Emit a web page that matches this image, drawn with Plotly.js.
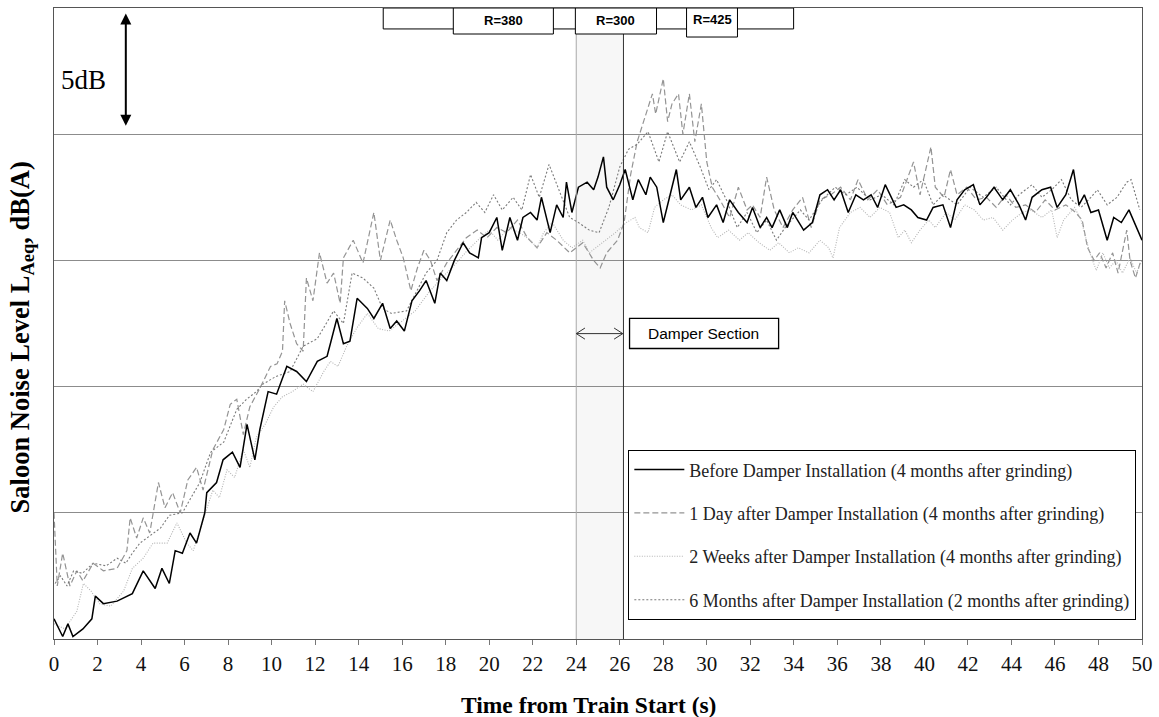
<!DOCTYPE html>
<html>
<head>
<meta charset="utf-8">
<script src="https://cdn.plot.ly/plotly-3.0.1.min.js"></script>
<style>
  html, body { margin: 0; padding: 0; background: #fff; }
  #chart { width: 1159px; height: 717px; }
</style>
</head>
<body>
<div id="chart"></div>
<script>
// Saloon noise level LAeq (dB(A)) against time from train start, [time s, level dB]
const before = [
  [0,60.8],[0.4,60.1],[0.64,60.6],[0.87,60.1],[1.33,60.4],[1.74,60.8],[1.9,61.7],[2.27,61.4],[2.9,61.5],[3.6,61.8],
  [4.1,62.7],[4.65,62.0],[4.96,62.8],[5.3,62.2],[5.57,63.5],[5.9,63.4],[6.25,64.2],[6.55,63.8],[6.93,65.0],[7.02,65.8],
  [7.47,66.2],[7.77,67.1],[8.2,67.4],[8.55,66.8],[8.87,68.5],[9.23,67.1],[9.46,68.3],[9.84,69.8],[10.23,69.7],[10.7,70.8],
  [11.15,70.6],[11.6,70.2],[12.1,71.0],[12.55,71.2],[12.7,71.7],[13.0,72.7],[13.3,71.7],[13.6,71.8],[13.93,73.5],[14.4,73.1],
  [14.7,72.7],[15.1,73.3],[15.45,72.3],[15.75,72.6],[16.1,72.2],[16.45,73.4],[16.8,73.8],[17.1,74.2],[17.5,73.3],[17.75,74.5],
  [18.05,74.2],[18.4,75.0],[18.8,75.7],[19.1,75.3],[19.5,75.1],[19.65,75.9],[20.0,76.1],[20.35,76.7],[20.6,75.4],[20.95,76.7],
  [21.3,75.8],[21.55,76.7],[21.9,76.9],[22.2,76.6],[22.4,77.5],[22.8,76.1],[23.1,77.2],[23.4,76.7],[23.55,78.1],[23.8,76.9],
  [24.1,77.9],[24.5,78.1],[24.8,77.8],[25.0,78.3],[25.25,79.1],[25.4,77.9],[25.7,77.4],[26.0,78.0],[26.25,78.6],[26.6,77.4],
  [26.85,78.2],[27.2,77.6],[27.4,78.3],[27.7,77.9],[28.0,76.5],[28.3,77.6],[28.6,78.6],[28.8,77.4],[29.2,77.9],[29.5,77.1],
  [29.8,77.5],[30.05,76.7],[30.45,77.2],[30.75,76.5],[31.05,77.4],[31.45,76.9],[31.85,76.5],[32.1,77.1],[32.45,76.3],[32.75,76.7],
  [33.0,76.3],[33.35,77.0],[33.7,76.3],[33.95,76.9],[34.45,76.2],[34.85,76.5],[35.2,77.6],[35.55,77.8],[35.85,77.4],[36.15,77.8],
  [36.5,76.9],[36.85,77.6],[37.2,77.4],[37.55,77.6],[37.85,77.1],[38.2,78.0],[38.55,77.4],[38.7,77.1],[39.05,77.2],[39.4,77.0],
  [39.7,76.7],[40.1,76.6],[40.4,77.1],[40.85,77.2],[41.2,76.3],[41.5,77.4],[41.85,77.8],[42.25,78.0],[42.55,77.2],[42.85,77.5],
  [43.2,77.9],[43.6,77.4],[43.95,77.8],[44.35,77.2],[44.65,76.6],[44.95,77.5],[45.4,77.8],[45.8,77.9],[46.1,77.1],[46.5,77.6],
  [46.85,78.6],[47.1,77.2],[47.35,77.6],[47.65,76.9],[48.0,77.0],[48.4,75.8],[48.7,76.7],[49.05,76.5],[49.4,77.0],[49.65,76.5],
  [50.0,75.8]
];

const oneDay = [
  [0,65.0],[0.15,62.1],[0.4,63.4],[0.73,62.1],[1.05,62.7],[1.33,62.3],[1.8,63.0],[2.27,62.7],[2.9,62.8],[3.35,63.5],
  [3.5,64.8],[3.8,64.0],[4.1,64.8],[4.4,64.2],[4.8,66.2],[5.1,65.2],[5.45,65.8],[5.8,65.0],[6.15,66.3],[6.55,66.8],
  [6.85,65.9],[7.3,67.5],[7.8,68.3],[8.1,69.3],[8.4,69.5],[8.7,68.1],[9.0,69.2],[9.5,70.0],[9.95,70.8],[10.25,70.9],
  [10.5,71.4],[10.6,73.4],[10.85,72.5],[11.15,71.7],[11.45,71.4],[11.6,74.3],[11.9,73.4],[12.2,75.3],[12.55,74.1],[12.85,74.5],
  [13.15,73.3],[13.3,75.1],[13.75,75.8],[14.2,74.9],[14.7,76.9],[15.0,75.0],[15.45,76.6],[15.75,75.8],[16.05,75.1],[16.4,73.8],
  [16.7,74.7],[17.0,75.4],[17.3,75.0],[17.6,74.2],[18.05,74.9],[18.5,75.4],[18.95,75.9],[19.45,76.2],[19.9,75.9],[20.35,76.3],
  [20.8,76.1],[21.3,76.6],[21.75,75.9],[22.2,75.5],[22.65,76.1],[23.1,75.8],[23.7,75.3],[24.3,75.7],[24.8,75.0],[25.1,74.7],
  [25.4,75.3],[25.9,75.8],[26.2,76.5],[26.5,78.4],[26.8,79.7],[27.5,81.6],[27.65,80.8],[28.0,82.2],[28.2,80.5],[28.4,81.2],
  [28.7,81.6],[28.9,80.0],[29.2,81.6],[29.45,79.7],[29.75,81.2],[30.0,78.9],[30.25,77.9],[30.6,77.4],[31.05,76.7],[31.45,77.9],
  [31.85,77.0],[32.1,77.2],[32.45,76.7],[32.75,78.3],[33.1,77.0],[33.5,76.3],[33.95,77.0],[34.4,77.5],[34.8,76.3],[35.2,77.4],
  [35.7,77.6],[36.15,77.9],[36.6,77.4],[36.95,78.2],[37.4,77.4],[37.85,77.8],[38.3,77.2],[38.9,77.5],[39.5,78.9],[39.8,77.6],
  [40.3,79.5],[40.5,77.9],[40.9,77.5],[41.2,78.6],[41.5,77.6],[41.95,77.9],[42.4,77.4],[42.85,77.5],[43.3,77.1],[43.75,77.6],
  [44.2,77.1],[44.65,77.2],[45.1,76.9],[45.55,77.4],[46.0,77.0],[46.5,77.2],[46.95,76.9],[47.25,76.6],[47.5,75.5],[47.8,75.0],
  [48.05,75.3],[48.35,74.7],[48.65,75.3],[48.9,74.5],[49.3,76.2],[49.45,75.0],[49.7,74.3],[49.95,75.0]
];

const twoWeeks = [
  [0,60.6],[0.5,60.4],[1.05,61.1],[1.35,62.2],[1.7,61.9],[2.1,61.4],[2.6,61.3],[3.2,61.9],[3.6,62.8],[4.1,63.2],
  [4.55,63.8],[5.2,63.8],[5.65,64.6],[6.1,63.8],[6.4,63.5],[6.7,64.3],[7.05,65.2],[7.3,65.9],[7.6,65.6],[7.95,66.7],
  [8.3,66.4],[8.7,67.5],[9.0,66.8],[9.3,68.0],[9.7,68.5],[10.1,69.2],[10.5,69.6],[10.95,69.8],[11.45,70.1],[11.9,69.8],
  [12.4,70.6],[12.7,71.0],[13.05,70.8],[13.45,71.6],[13.9,72.3],[14.4,72.9],[14.9,72.3],[15.4,72.2],[16.0,72.6],[16.6,73.0],
  [17.2,73.7],[17.7,74.2],[18.5,74.9],[19.0,75.4],[19.6,75.9],[20.0,76.2],[20.4,75.8],[20.9,76.3],[21.4,76.1],[21.9,75.8],
  [22.2,75.5],[22.5,76.1],[22.9,76.5],[23.4,75.8],[23.8,75.5],[24.3,75.8],[24.6,75.3],[24.9,75.5],[25.4,75.8],[25.8,76.1],
  [26.3,76.5],[26.7,76.7],[26.9,76.3],[27.3,76.1],[27.6,77.1],[28.0,77.4],[28.4,77.6],[28.8,77.2],[29.3,77.0],[29.75,77.2],
  [30.2,76.3],[30.5,75.9],[31.0,76.2],[31.5,75.8],[31.9,76.1],[32.4,75.7],[32.9,75.4],[33.3,75.7],[33.8,75.3],[34.2,75.5],
  [34.7,75.3],[35.2,75.8],[35.6,75.5],[35.8,75.1],[36.1,76.3],[36.6,76.9],[37.05,77.1],[37.5,76.7],[37.95,77.1],[38.4,76.9],
  [38.8,75.9],[39.1,76.2],[39.4,75.7],[39.8,76.2],[40.2,76.6],[40.5,76.3],[41.0,76.9],[41.4,76.6],[41.85,77.2],[42.3,77.0],
  [42.7,76.6],[43.15,76.7],[43.6,76.2],[44.05,76.6],[44.5,76.9],[44.9,77.0],[45.4,76.7],[45.85,77.0],[46.1,75.9],[46.4,76.6],
  [46.9,77.1],[47.2,76.6],[47.6,75.3],[47.9,74.6],[48.2,75.3],[48.5,74.7],[48.8,75.0],[49.1,74.5],[49.45,75.1],[49.75,74.5],
  [50.0,75.0]
];

const sixMonths = [
  [0.05,62.2],[0.3,62.5],[0.6,62.1],[0.9,62.7],[1.3,62.6],[1.8,63.0],[2.4,62.9],[2.9,63.2],[3.3,63.0],[3.6,63.4],
  [3.95,63.8],[4.4,64.1],[4.9,64.4],[5.3,64.9],[5.9,65.0],[6.7,66.2],[7.2,67.4],[7.8,67.8],[8.4,69.1],[8.85,69.5],
  [9.3,69.8],[9.6,70.1],[10.2,70.4],[10.85,70.6],[11.45,71.6],[12.1,71.9],[12.85,73.0],[13.3,72.5],[13.7,74.5],[14.2,74.3],
  [14.7,73.9],[15.1,73.1],[15.5,72.9],[16.2,73.0],[16.7,73.8],[17.1,74.5],[17.6,75.0],[18.05,76.1],[18.5,76.6],[18.95,76.9],
  [19.4,77.3],[19.8,76.9],[20.2,77.6],[20.6,77.0],[21.1,77.5],[21.5,77.0],[21.9,78.4],[22.3,77.5],[22.75,78.8],[23.15,77.9],
  [23.7,76.7],[24.1,76.5],[24.6,76.2],[25.05,76.1],[25.5,77.1],[26.0,78.7],[26.4,79.4],[26.8,79.6],[27.3,80.1],[27.8,78.9],
  [28.2,80.1],[28.75,78.9],[29.2,79.7],[29.7,78.7],[30.1,77.8],[30.45,78.2],[30.9,77.4],[31.4,76.3],[31.85,76.9],[32.3,76.1],
  [32.75,76.6],[33.2,75.8],[33.6,76.3],[34.3,77.0],[34.7,76.6],[35.3,77.4],[35.9,77.9],[36.4,77.6],[36.9,77.9],[37.5,77.4],
  [38.05,77.6],[38.6,77.2],[39.1,78.2],[39.5,77.9],[39.95,78.2],[40.4,77.2],[40.85,77.6],[41.5,77.2],[42.1,77.9],[42.7,77.5],
  [43.3,77.9],[43.95,77.2],[44.35,77.6],[44.95,78.0],[45.4,77.5],[45.85,77.8],[46.3,78.2],[46.75,77.4],[47.2,77.1],[47.65,77.5],
  [47.95,77.8],[48.4,77.2],[48.85,77.5],[49.3,78.1],[49.5,78.2],[49.9,77.0]
];

const seriesNames = [
  'Before Damper Installation (4 months after grinding)',
  '1 Day after Damper Installation (4 months after grinding)',
  '2 Weeks after Damper Installation (4 months after grinding)',
  '6 Months after Damper Installation (2 months after grinding)'
];

// Track curve radii along the route (time span in s)
const curveLabels = ['R=380', 'R=300', 'R=425'];
const curveStart = [18.35, 23.96, 29.07];
const curveEnd = [22.95, 27.69, 31.41];
const trackSpan = [15.13, 33.99];

// Damper section (time span in s)
const damperSpan = [24.0, 26.17];

const serif = 'Liberation Serif, Times New Roman, serif';
const sans = 'Liberation Sans, Arial, sans-serif';

const styles = [
  { color: '#000000', width: 1.5, dash: 'solid' },
  { color: '#949494', width: 1.2, dash: '6px,3px' },
  { color: '#b4b4b4', width: 1.1, dash: '1px,1.5px' },
  { color: '#7a7a7a', width: 1.1, dash: '2px,2px' }
];

const datasets = [before, oneDay, twoWeeks, sixMonths];
const traces = datasets.map((d, i) => ({
  type: 'scatter',
  mode: 'lines',
  x: d.map(p => p[0]),
  y: d.map(p => p[1]),
  name: seriesNames[i],
  legendgroup: 'g' + i,
  legendrank: i + 1,
  line: styles[i]
}));
// the before-installation series is drawn last so it sits on top
const ordered = [traces[1], traces[2], traces[3], traces[0]];

const shapes = [];
const annotations = [];

// damper section shading and its boundaries
shapes.push({ type: 'rect', xref: 'x', yref: 'y', x0: damperSpan[0], x1: damperSpan[1], y0: 60, y1: 84.0,
  fillcolor: 'rgba(200,200,200,0.14)', line: { width: 0 }, layer: 'below' });
shapes.push({ type: 'line', xref: 'x', yref: 'y', x0: damperSpan[0], x1: damperSpan[0], y0: 60, y1: 84.0,
  line: { color: '#a8a8a8', width: 1 }, layer: 'above' });
shapes.push({ type: 'line', xref: 'x', yref: 'y', x0: damperSpan[1], x1: damperSpan[1], y0: 60, y1: 84.0,
  line: { color: '#333333', width: 1 }, layer: 'above' });

// track band along the top with the curve radius boxes
shapes.push({ type: 'rect', xref: 'x', yref: 'y', x0: trackSpan[0], x1: trackSpan[1], y0: 84.17, y1: 85,
  fillcolor: '#ffffff', line: { color: '#000', width: 1 }, layer: 'above' });
curveLabels.forEach((lab, i) => {
  const bottom = i === 2 ? 83.85 : 83.97;
  shapes.push({ type: 'rect', xref: 'x', yref: 'y', x0: curveStart[i], x1: curveEnd[i], y0: bottom, y1: 85,
    fillcolor: '#ffffff', line: { color: '#000', width: 1 }, layer: 'above' });
  annotations.push({ xref: 'x', yref: 'y', x: (curveStart[i] + curveEnd[i]) / 2, y: i === 2 ? 84.55 : 84.5,
    text: '<b>' + lab + '</b>', showarrow: false, font: { family: sans, size: 13, color: '#000' } });
});

// damper section marker: double-headed arrow and labelled box
const ya = 72.1;
shapes.push({ type: 'path', xref: 'x', yref: 'y',
  path: `M${damperSpan[0]},${ya} L${damperSpan[1] - 0.03},${ya} ` +
        `M${damperSpan[0] + 0.4},${ya + 0.22} L${damperSpan[0]},${ya} L${damperSpan[0] + 0.4},${ya - 0.22} ` +
        `M${damperSpan[1] - 0.43},${ya + 0.22} L${damperSpan[1] - 0.03},${ya} L${damperSpan[1] - 0.43},${ya - 0.22}`,
  line: { color: '#333', width: 1 }, layer: 'above' });
shapes.push({ type: 'rect', xref: 'x', yref: 'y', x0: 26.45, x1: 33.3, y0: 71.51, y1: 72.7,
  fillcolor: '#ffffff', line: { color: '#000', width: 1.3 }, layer: 'above' });
annotations.push({ xref: 'x', yref: 'y', x: 29.87, y: 72.1, text: 'Damper Section', showarrow: false,
  font: { family: sans, size: 15.5, color: '#000' } });

// 5 dB scale bar
annotations.push({ xref: 'x', yref: 'y', axref: 'x', ayref: 'y', x: 3.3, y: 80.33, ax: 3.3, ay: 84.84,
  text: '', showarrow: true, arrowhead: 2, startarrowhead: 2, arrowside: 'end+start',
  arrowsize: 1.1, startarrowsize: 1.1, arrowwidth: 2, arrowcolor: '#000' });
annotations.push({ xref: 'x', yref: 'y', x: 1.36, y: 82.15, text: '5dB', showarrow: false,
  xanchor: 'center', yanchor: 'middle', font: { family: serif, size: 27, color: '#000' } });

// axis titles
annotations.push({ xref: 'paper', yref: 'paper', x: -0.0294, y: 0.478, textangle: -90,
  xanchor: 'center', yanchor: 'middle',
  text: 'Saloon Noise Level L<sub>Aeq</sub>, dB(A)', showarrow: false,
  font: { family: serif, size: 26.5, color: '#000', weight: 'bold' } });
annotations.push({ xref: 'paper', yref: 'paper', x: 0.4917, y: -0.1046,
  xanchor: 'center', yanchor: 'middle',
  text: 'Time from Train Start (s)', showarrow: false,
  font: { family: serif, size: 23.5, color: '#000', weight: 'bold' } });

const layout = {
  width: 1159, height: 717,
  margin: { l: 54, r: 17, t: 8, b: 78 },
  paper_bgcolor: '#ffffff', plot_bgcolor: '#ffffff',
  showlegend: true,
  legend: {
    x: 0.5276, y: 0.2995, xanchor: 'left', yanchor: 'top',
    bgcolor: '#ffffff', bordercolor: '#000', borderwidth: 1.3,
    font: { family: serif, size: 18, color: '#222' },
    traceorder: 'grouped', tracegroupgap: 17, itemwidth: 50
  },
  xaxis: {
    range: [0, 50], dtick: 2, tick0: 0,
    ticks: 'outside', ticklen: 5, tickcolor: '#777', tickwidth: 1,
    showline: true, linecolor: '#555', linewidth: 1.3, mirror: true,
    showgrid: false, zeroline: false,
    tickfont: { family: serif, size: 21, color: '#111' }
  },
  yaxis: {
    range: [60, 85], dtick: 5, tick0: 60,
    showticklabels: false, ticks: '',
    showline: true, linecolor: '#555', linewidth: 1.3, mirror: true,
    showgrid: true, gridcolor: '#8c8c8c', gridwidth: 1, zeroline: false
  },
  shapes: shapes,
  annotations: annotations
};

Plotly.newPlot('chart', ordered, layout, { displayModeBar: false, staticPlot: true });
</script>
</body>
</html>
